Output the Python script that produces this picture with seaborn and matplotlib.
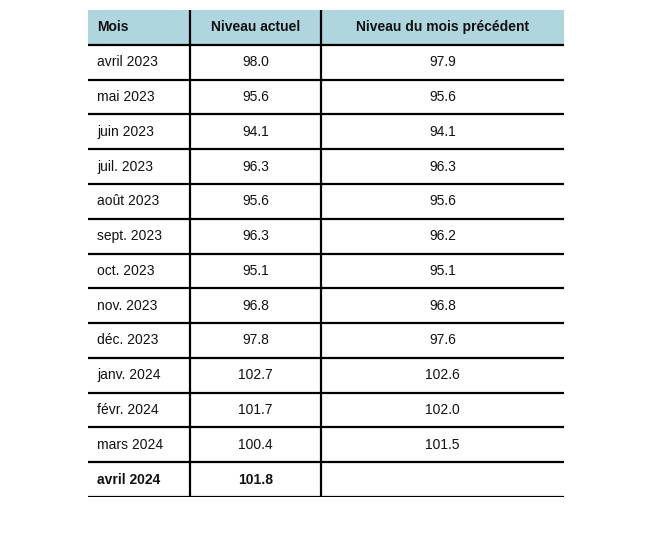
import seaborn as sns
import matplotlib.pyplot as plt

# table data
headers = ['Mois', 'Niveau actuel', 'Niveau du mois précédent']
mois = ['avril 2023', 'mai 2023', 'juin 2023', 'juil. 2023', 'août 2023',
        'sept. 2023', 'oct. 2023', 'nov. 2023', 'déc. 2023', 'janv. 2024',
        'févr. 2024', 'mars 2024', 'avril 2024']
niveau_actuel = [98.0, 95.6, 94.1, 96.3, 95.6, 96.3, 95.1, 96.8, 97.8,
                 102.7, 101.7, 100.4, 101.8]
niveau_prec = [97.9, 95.6, 94.1, 96.3, 95.6, 96.2, 95.1, 96.8, 97.6,
               102.6, 102.0, 101.5, None]

sns.set_theme(style='white')
plt.rcParams['font.family'] = ['Liberation Sans', 'DejaVu Sans']

fig = plt.figure(figsize=(6.6, 5.36), dpi=100)
# axes spans the table area; x in pixels, y in rows
ax = fig.add_axes([88/660, (536-497)/536, 476/660, 487/536])
W = 476
n = len(mois) + 1
ax.set_xlim(0, W)
ax.set_ylim(n, 0)
ax.axis('off')

col_div = [102, 233]
col_x = [9, (102+233)/2, (233+W)/2]
align = ['left', 'center', 'center']

ax.axhspan(0, 1, color='#afd6df', lw=0)
for j, h in enumerate(headers):
    ax.text(col_x[j], 0.5, h, ha=align[j], va='center', fontsize=10,
            fontweight='bold', color='#111111')

for i, m in enumerate(mois):
    y = i + 1.5
    bold = 'bold' if i == len(mois) - 1 else 'normal'
    vals = [m, f'{niveau_actuel[i]:.1f}',
            '' if niveau_prec[i] is None else f'{niveau_prec[i]:.1f}']
    for j, v in enumerate(vals):
        ax.text(col_x[j], y, v, ha=align[j], va='center', fontsize=10,
                fontweight=bold if j < 2 else 'normal', color='#111111')

ax.hlines(range(1, n + 1), 0, W, color='black', lw=1.6)
ax.vlines(col_div, 0, n, color='black', lw=1.6)

fig.savefig('out.png', dpi=100)
